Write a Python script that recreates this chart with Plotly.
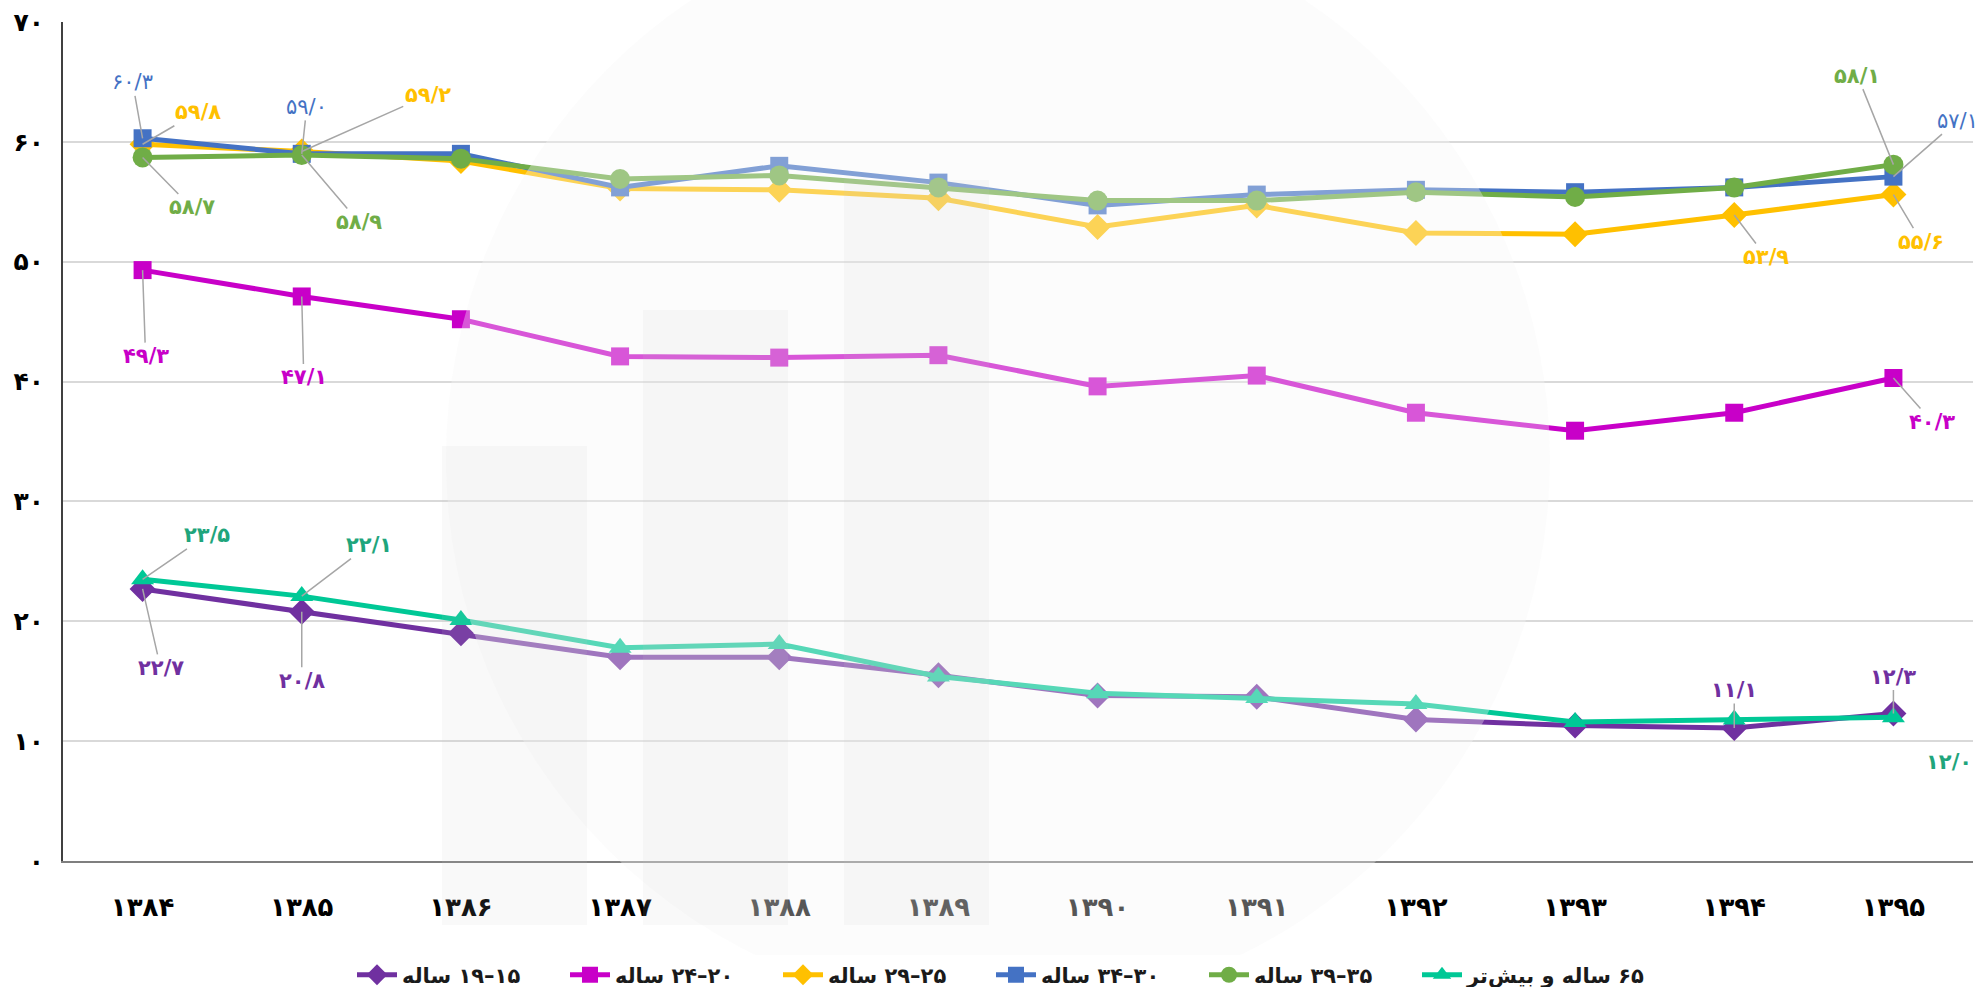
import plotly.graph_objects as go

years = ['۱۳۸۴', '۱۳۸۵', '۱۳۸۶', '۱۳۸۷', '۱۳۸۸', '۱۳۸۹', '۱۳۹۰', '۱۳۹۱', '۱۳۹۲', '۱۳۹۳', '۱۳۹۴', '۱۳۹۵']

age_15_19 = [22.7, 20.8, 19.0, 17.0, 17.0, 15.5, 13.8, 13.7, 11.8, 11.3, 11.1, 12.3]
age_20_24 = [49.3, 47.1, 45.2, 42.1, 42.0, 42.2, 39.6, 40.5, 37.4, 35.9, 37.4, 40.3]
age_25_29 = [59.8, 59.2, 58.4, 56.1, 56.0, 55.3, 52.9, 54.7, 52.4, 52.3, 53.9, 55.6]
age_30_34 = [60.3, 59.0, 59.0, 56.2, 58.0, 56.6, 54.7, 55.6, 56.0, 55.8, 56.2, 57.1]
age_35_39 = [58.7, 58.9, 58.6, 56.9, 57.2, 56.2, 55.1, 55.1, 55.8, 55.4, 56.2, 58.1]
age_65_up = [23.5, 22.1, 20.1, 17.8, 18.1, 15.4, 14.0, 13.6, 13.1, 11.6, 11.8, 12.0]

y_ticks = [0, 10, 20, 30, 40, 50, 60, 70]

RLE, PDF = '\u202b', '\u202c'
FA_DIGITS = str.maketrans('0123456789.', '۰۱۲۳۴۵۶۷۸۹/')


def to_fa(v):
    return str(v).translate(FA_DIGITS)


FONT = 'DejaVu Sans'

# name, values, line colour, label colour, marker symbol, marker size
series = [
    ('۱۵–۱۹ ساله', age_15_19, '#7030A0', '#7030A0', 'diamond', 20),
    ('۲۰–۲۴ ساله', age_20_24, '#C800C8', '#C800C8', 'square', 18),
    ('۲۵–۲۹ ساله', age_25_29, '#FFC000', '#FFC000', 'diamond', 20),
    ('۳۰–۳۴ ساله', age_30_34, '#4472C4', '#4472C4', 'square', 18),
    ('۳۵–۳۹ ساله', age_35_39, '#70AD47', '#70AD47', 'circle', 20),
    ('۶۵ ساله و بیش‌تر', age_65_up, '#00C896', '#1FA57C', 'triangle-up', 20),
]

# which points carry a data label: (series index, year index) -> (ax, ay, bold)
labels = {
    (3, 0): (-10, -56, False), (2, 0): (55, -32, True), (4, 0): (49, 50, True),
    (3, 1): (5, -47, False), (2, 1): (126, -56, True), (4, 1): (57, 67, True),
    (1, 0): (3, 86, True), (1, 1): (2, 81, True), (1, 11): (39, 44, True),
    (2, 10): (32, 42, True), (2, 11): (28, 47, True),
    (4, 11): (-36, -89, True), (3, 11): (64, -56, False),
    (5, 0): (64, -44, True), (5, 1): (67, -51, True),
    (0, 0): (18, 79, True), (0, 1): (0, 69, True),
    (0, 10): (0, -38, True), (0, 11): (0, -37, True),
    (5, 11): (56, 45, True),
}

fig = go.Figure()
for name, vals, col, lcol, sym, size in series:
    fig.add_trace(go.Scatter(
        x=years, y=vals, name=RLE + name + PDF, mode='lines+markers',
        line=dict(color=col, width=5),
        marker=dict(symbol=sym, size=size, color=col),
    ))
# empty entry so the last (longer) legend text has room inside the legend box
fig.add_trace(go.Scatter(x=[None], y=[None], name=' ', mode='lines',
                         line=dict(width=0, color='rgba(0,0,0,0)'), hoverinfo='skip'))

annotations = []
for (si, yi), (ax, ay, bold) in labels.items():
    name, vals, col, lcol, sym, size = series[si]
    annotations.append(dict(
        x=years[yi], y=vals[yi], xref='x', yref='y',
        text=to_fa(vals[yi]), showarrow=True, arrowhead=0,
        arrowcolor='#A6A6A6', arrowwidth=1.5, ax=ax, ay=ay,
        font=dict(family=FONT, size=21, color=lcol,
                  weight='bold' if bold else 'normal'),
    ))

# faint watermark logo over the middle of the plot
shapes = [
    dict(type='circle', xref='paper', yref='paper', x0=0.2005, x1=0.7785,
         y0=-0.179, y1=1.137, layer='above', line=dict(width=0),
         fillcolor='rgba(246,246,246,0.35)'),
]
for x0, x1, y1 in [(442, 587, 446), (643, 788, 310), (844, 989, 180)]:
    shapes.append(dict(
        type='rect', xref='paper', yref='paper',
        x0=(x0 - 63) / 1910, x1=(x1 - 63) / 1910,
        y0=(861 - 925) / 839, y1=(861 - y1) / 839,
        layer='above', line=dict(width=0), fillcolor='rgba(200,200,200,0.11)',
    ))

fig.update_layout(
    width=1985, height=987,
    margin=dict(l=63, r=12, t=22, b=126, autoexpand=False),
    paper_bgcolor='white', plot_bgcolor='white',
    font=dict(family=FONT, color='#000000'),
    showlegend=True,
    legend=dict(orientation='h', x=(352 - 63) / 1910, xanchor='left', y=-0.136, yanchor='middle',
                font=dict(family=FONT, size=21, color='#1a1a1a', weight='bold'),
                entrywidth=158, itemwidth=40),
    xaxis=dict(
        type='category', range=[-0.5, 11.5], automargin=False,
        showgrid=False, showline=True, linecolor='#7f7f7f', linewidth=2,
        ticks='', tickfont=dict(family=FONT, size=26, color='#000000', weight='bold'),
        ticklabelstandoff=22,
    ),
    yaxis=dict(
        range=[0, 70], tickvals=y_ticks, ticktext=[to_fa(v) for v in y_ticks],
        automargin=False,
        showgrid=True, gridcolor='#D9D9D9', gridwidth=1.5,
        showline=True, linecolor='#404040', linewidth=2, zeroline=False,
        ticks='', tickfont=dict(family=FONT, size=25, color='#000000', weight='bold'),
        ticklabelstandoff=12,
    ),
    annotations=annotations,
    shapes=shapes,
)

# the page's default body margin would push the figure off the window
fig.write_html('out.html', config={'displayModeBar': False},
               post_script="document.body.style.margin='0';")
